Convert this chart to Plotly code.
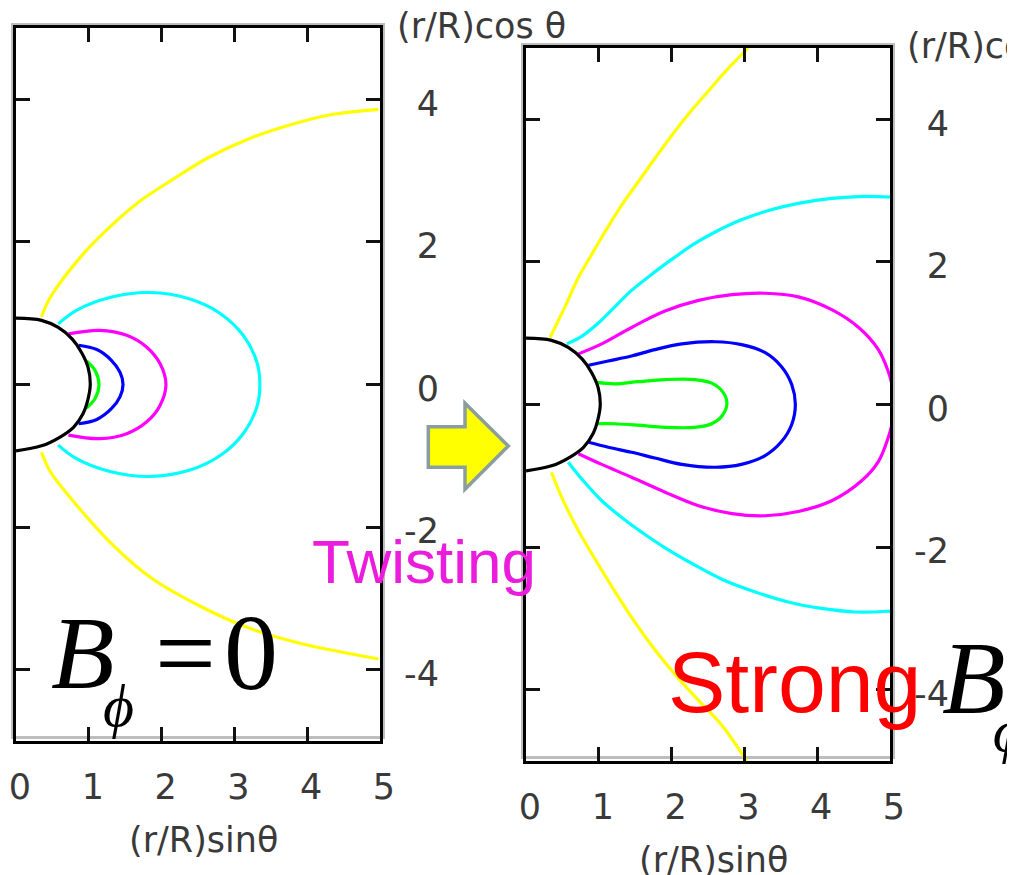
import plotly.graph_objects as go

W, H = 1015, 875
OFF = 8  # page body margin of the browser

# ---------------- data ----------------
x_ticks = [0, 1, 2, 3, 4, 5]
x_tick_text = ["0", "1", "2", "3", "4", "5"]
y_ticks = [-4, -2, 0, 2, 4]
y_tick_text = ["-4", "-2", "0", "2", "4"]

# star surface (black)
circle_x = [0.0, 0.35, 0.58, 0.77, 0.90, 0.99, 1.02, 0.99, 0.92, 0.79, 0.60, 0.35, 0.0]
circle_y = [0.93, 0.90, 0.80, 0.64, 0.45, 0.24, 0.0, -0.20, -0.41, -0.60, -0.74, -0.86, -0.93]

# ---- left panel: B_phi = 0 ----
L_yellow_up_x = [0.35, 0.47, 0.88, 1.29, 1.70, 2.16, 2.62, 3.21, 3.76, 4.36, 4.98]
L_yellow_up_y = [0.95, 1.22, 1.78, 2.21, 2.57, 2.88, 3.17, 3.45, 3.64, 3.79, 3.86]
L_yellow_lo_x = [0.35, 0.47, 0.79, 1.29, 1.84, 2.53, 3.21, 3.90, 4.98]
L_yellow_lo_y = [-0.95, -1.22, -1.64, -2.21, -2.70, -3.11, -3.42, -3.63, -3.85]

L_cyan_x = [0.58, 0.83, 1.29, 1.84, 2.39, 2.80, 3.12, 3.31, 3.35, 3.31, 3.12, 2.80, 2.39, 1.84, 1.29, 0.83, 0.58]
L_cyan_y = [0.85, 1.04, 1.22, 1.29, 1.20, 1.00, 0.69, 0.31, 0.0, -0.31, -0.69, -1.00, -1.20, -1.29, -1.22, -1.04, -0.85]

L_magenta_x = [0.72, 1.15, 1.52, 1.80, 1.98, 2.06, 1.98, 1.80, 1.52, 1.15, 0.72]
L_magenta_y = [0.71, 0.76, 0.69, 0.52, 0.29, 0.0, -0.29, -0.52, -0.69, -0.76, -0.71]

L_blue_x = [0.86, 1.11, 1.31, 1.43, 1.47, 1.43, 1.31, 1.11, 0.86]
L_blue_y = [0.55, 0.49, 0.34, 0.17, 0.0, -0.17, -0.34, -0.49, -0.55]

L_green_x = [0.97, 1.09, 1.14, 1.09, 0.97]
L_green_y = [0.33, 0.19, 0.0, -0.19, -0.33]

# ---- right panel: strong B_phi ----
R_yellow_up_x = [0.33, 0.54, 0.72, 0.90, 1.09, 1.31, 1.54, 1.77, 2.00, 2.23, 2.50, 2.73, 3.05]
R_yellow_up_y = [0.94, 1.38, 1.78, 2.10, 2.43, 2.79, 3.12, 3.45, 3.77, 4.07, 4.39, 4.66, 5.0]
R_yellow_lo_x = [0.35, 0.49, 0.72, 0.95, 1.22, 1.50, 1.77, 2.05, 2.37, 2.69, 3.03]
R_yellow_lo_y = [-0.95, -1.30, -1.77, -2.17, -2.62, -3.06, -3.44, -3.79, -4.15, -4.50, -5.0]

R_cyan_up_x = [0.56, 0.77, 0.99, 1.22, 1.45, 1.77, 2.05, 2.32, 2.60, 2.96, 3.33, 3.74, 4.20, 4.66, 5.0]
R_cyan_up_y = [0.85, 0.96, 1.14, 1.37, 1.60, 1.86, 2.07, 2.26, 2.42, 2.59, 2.72, 2.82, 2.89, 2.92, 2.91]
R_cyan_lo_x = [0.58, 0.77, 1.04, 1.36, 1.63, 1.91, 2.28, 2.69, 3.15, 3.60, 4.06, 4.52, 5.0]
R_cyan_lo_y = [-0.81, -1.05, -1.35, -1.62, -1.82, -2.01, -2.23, -2.45, -2.63, -2.77, -2.86, -2.91, -2.90]

R_magenta_x = [0.72, 1.04, 1.45, 1.91, 2.37, 2.83, 3.28, 3.74, 4.20, 4.57, 4.84, 4.97, 5.04, 5.06, 5.04,
               4.97, 4.84, 4.61, 4.20, 3.74, 3.28, 2.83, 2.37, 1.91, 1.45, 1.04, 0.72]
R_magenta_y = [0.71, 0.85, 1.08, 1.31, 1.46, 1.54, 1.56, 1.51, 1.33, 1.08, 0.77, 0.48, 0.22, 0.0, -0.22,
               -0.48, -0.80, -1.07, -1.35, -1.50, -1.56, -1.53, -1.42, -1.23, -1.02, -0.84, -0.69]

R_blue_x = [0.86, 1.13, 1.45, 1.77, 2.14, 2.60, 2.96, 3.28, 3.51, 3.65, 3.70, 3.65, 3.51, 3.28, 2.96,
            2.60, 2.14, 1.77, 1.45, 1.13, 0.86]
R_blue_y = [0.55, 0.61, 0.68, 0.77, 0.85, 0.88, 0.84, 0.73, 0.53, 0.28, 0.0, -0.28, -0.52, -0.72, -0.84,
            -0.88, -0.84, -0.75, -0.67, -0.60, -0.53]

R_green_x = [0.97, 1.22, 1.54, 1.91, 2.32, 2.55, 2.70, 2.76, 2.70, 2.55, 2.32, 1.91, 1.54, 1.22, 0.97]
R_green_y = [0.31, 0.29, 0.32, 0.35, 0.35, 0.30, 0.18, 0.02, -0.15, -0.27, -0.32, -0.32, -0.29, -0.27, -0.27]

YELLOW, CYAN, MAGENTA, BLUE, GREEN = "#FFFF00", "#00FFFF", "#FF00FF", "#0000FF", "#00FF00"

# ---------------- figure ----------------
fig = go.Figure()


def add_line(x, y, color, xa, ya, width=3.2):
    fig.add_trace(go.Scatter(x=x, y=y, mode="lines", xaxis=xa, yaxis=ya,
                             line=dict(color=color, width=width, shape="spline", smoothing=1.0),
                             hoverinfo="skip", showlegend=False))


left = [(L_yellow_up_x, L_yellow_up_y, YELLOW), (L_yellow_lo_x, L_yellow_lo_y, YELLOW),
        (L_cyan_x, L_cyan_y, CYAN), (L_magenta_x, L_magenta_y, MAGENTA),
        (L_blue_x, L_blue_y, BLUE), (L_green_x, L_green_y, GREEN),
        (circle_x, circle_y, "#000000")]
right = [(R_yellow_up_x, R_yellow_up_y, YELLOW), (R_yellow_lo_x, R_yellow_lo_y, YELLOW),
         (R_cyan_up_x, R_cyan_up_y, CYAN), (R_cyan_lo_x, R_cyan_lo_y, CYAN),
         (R_magenta_x, R_magenta_y, MAGENTA), (R_blue_x, R_blue_y, BLUE),
         (R_green_x, R_green_y, GREEN), (circle_x, circle_y, "#000000")]
for x, y, c in left:
    add_line(x, y, c, "x", "y")
for x, y, c in right:
    add_line(x, y, c, "x2", "y2")


def px_x(p):
    return (p - OFF) / W


def px_y(p):
    return 1 - (p - OFF) / H


TICKFONT = dict(family="DejaVu Sans", size=35, color="#3a3a3a")


def xaxis_cfg(x0, x1, anchor):
    return dict(domain=[px_x(x0), px_x(x1)], range=[0, 5], anchor=anchor, automargin=False,
                tickvals=x_ticks, ticktext=x_tick_text, ticks="inside", ticklen=14, tickwidth=3,
                tickcolor="#111111", showline=True, linecolor="#000000", linewidth=3, mirror="ticks",
                showgrid=False, zeroline=False, tickfont=TICKFONT, ticklabelstandoff=13,
                ticklabelshift=4, fixedrange=True)


def yaxis_cfg(y0, y1, anchor):
    return dict(domain=[px_y(y1), px_y(y0)], range=[-5, 5], anchor=anchor, side="right", automargin=False,
                tickvals=y_ticks, ticktext=y_tick_text, ticks="inside", ticklen=14, tickwidth=3,
                tickcolor="#111111", showline=True, linecolor="#000000", linewidth=3, mirror="ticks",
                showgrid=False, zeroline=False, tickfont=TICKFONT,
                ticklabelposition="inside", ticklabelstandoff=-69,
                ticklabelshift=4, fixedrange=True)


fig.update_layout(
    width=W, height=H, margin=dict(l=0, r=0, t=0, b=0, pad=0, autoexpand=False),
    paper_bgcolor="white", plot_bgcolor="white", showlegend=False,
    xaxis=xaxis_cfg(16, 380, "y"), yaxis=yaxis_cfg(28, 741, "x"),
    xaxis2=xaxis_cfg(526, 890, "y2"), yaxis2=yaxis_cfg(48, 761, "x2"),
)

# gray shadow frames
shapes = []
for (x0, y0, x1, y1) in [(12.5, 24.5, 383.5, 737.5), (522.5, 44.5, 893.5, 757.5)]:
    shapes.append(dict(type="rect", xref="paper", yref="paper", layer="below",
                       x0=px_x(x0), x1=px_x(x1), y0=px_y(y1), y1=px_y(y0),
                       line=dict(color="#bdbdbd", width=3), fillcolor="rgba(0,0,0,0)"))

# block arrow
arrow_pts = [(428.3, 426.7), (465, 426.7), (465, 403.3), (508.3, 446), (465, 489.3), (465, 467.3), (428.3, 467.3)]
path = "M " + " L ".join(f"{px_x(a):.5f},{px_y(b):.5f}" for a, b in arrow_pts) + " Z"
shapes.append(dict(type="path", xref="paper", yref="paper", path=path, layer="above",
                   fillcolor="#FFFF00", line=dict(color="#8A9E9E", width=3.5)))
fig.update_layout(shapes=shapes)

ann = []


def text(t, x, y, size, color, family, xanchor="center", yanchor="middle"):
    ann.append(dict(text=t, x=px_x(x), y=px_y(y), xref="paper", yref="paper", showarrow=False,
                    xanchor=xanchor, yanchor=yanchor, font=dict(size=size, color=color, family=family)))


GRAY = "#3a3a3a"
SERIF = "Liberation Serif, DejaVu Serif, Times New Roman"
text("(r/R)cos θ", 481, 26, 35, GRAY, "DejaVu Sans")
text("(r/R)cos θ", 905, 46, 35, GRAY, "DejaVu Sans", xanchor="left")
text("(r/R)sinθ", 203, 840, 35, GRAY, "DejaVu Sans")
text("(r/R)sinθ", 713, 860, 35, GRAY, "DejaVu Sans")

text("Twisting", 310, 561.5, 62, "#EC1CDC", "Liberation Sans, Arial", xanchor="left")
text("Strong", 666, 682, 86, "#FF0000", "Liberation Sans, Arial", xanchor="left")

# B_phi = 0 (left)
text("<i>B</i>", 49, 652, 104, "#000000", SERIF, xanchor="left")
text("<i>ϕ</i>", 118, 706, 60, "#000000", SERIF)
text("=", 185, 652, 108, "#000000", SERIF)
text("0", 251, 652, 108, "#000000", SERIF)
# strong B_phi (right)
text("<i>B</i>", 940, 677, 104, "#000000", SERIF, xanchor="left")
text("<i>ϕ</i>", 1008, 731, 60, "#000000", SERIF)

fig.update_layout(annotations=ann)
fig.write_html("out.html")
